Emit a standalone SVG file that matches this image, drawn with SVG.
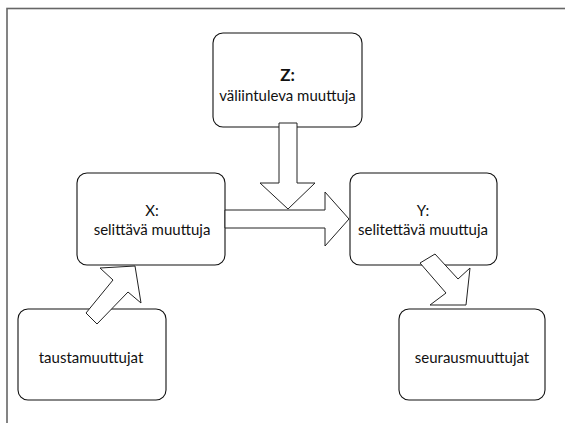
<svg xmlns="http://www.w3.org/2000/svg" width="565" height="423" viewBox="0 0 565 423">
<style>
.box{fill:#fff;stroke:#111;stroke-width:1.1}
.arr{fill:#fff;stroke:#222;stroke-width:1;stroke-linejoin:miter}
text{font-family:"Lato","Open Sans","Liberation Sans",sans-serif;font-size:15px;fill:#111;text-anchor:middle}
.b{font-weight:bold;font-size:17px}
</style>
<rect x="7" y="8.5" width="700" height="600" fill="#fff" stroke="#666" stroke-width="1.6"/>
<g id="node-z">
<rect class="box" x="213" y="33" width="149" height="94" rx="10"/>
<text class="b" x="287.5" y="81">Z:</text>
<text x="287.5" y="101">väliintuleva muuttuja</text>
</g>
<g id="node-x">
<rect class="box" x="77" y="173" width="148" height="92" rx="10"/>
<text x="152" y="216">X:</text>
<text x="152" y="235">selittävä muuttuja</text>
</g>
<g id="node-y">
<rect class="box" x="350" y="173" width="147" height="92" rx="10"/>
<text x="423" y="216">Y:</text>
<text x="423" y="235">selitettävä muuttuja</text>
</g>
<g id="node-tausta">
<rect class="box" x="18" y="309" width="148" height="91" rx="10"/>
<text x="91" y="363">taustamuuttujat</text>
</g>
<g id="node-seuraus">
<rect class="box" x="399" y="309" width="146" height="91" rx="10"/>
<text x="472" y="363">seurausmuuttujat</text>
</g>
<g id="connectors">
<polygon class="arr" points="279,123 297,123 297,183 315,183 288,209 260,183 279,183"/>
<polygon class="arr" points="225,210 325,210 325,192 349,219 325,246 325,228 225,228"/>
<polygon class="arr" points="420,263 435,254 458,279 470,268 466,305 430,305 446,293"/>
<polygon class="arr" points="100,268 135,266 141,303 128,292 97,324 86,313 113,280"/>
</g>
</svg>
